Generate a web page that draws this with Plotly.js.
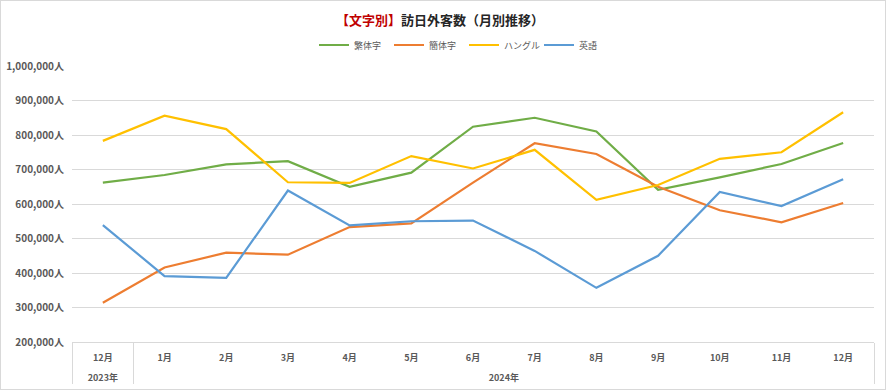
<!DOCTYPE html>
<html>
<head>
<meta charset="utf-8">
<script src="https://cdn.plot.ly/plotly-3.0.1.min.js"></script>
<style>
  html, body { margin: 0; padding: 0; background: #fff; }
  #wrap { position: relative; width: 886px; height: 390px; }
  #chart { width: 886px; height: 390px; }
  #frame { position: absolute; left: 0; top: 0; width: 884px; height: 388px; border: 1px solid #d9d9d9; pointer-events: none; }
</style>
</head>
<body>
<div id="wrap"><div id="chart"></div><div id="frame"></div></div>
<script>
const years = ['2023年','2024年','2024年','2024年','2024年','2024年','2024年','2024年','2024年','2024年','2024年','2024年','2024年'];
// the second "12月" carries a zero-width space so the multicategory axis keeps it as a separate, last category
const months = ['12月','1月','2月','3月','4月','5月','6月','7月','8月','9月','10月','11月','12月\u200b'];

const traditional = [662000, 684000, 715000, 724000, 650000, 691000, 824000, 850000, 810000, 641000, 677000, 716000, 777000];
const simplified  = [314000, 416000, 459000, 453000, 533000, 544000, 662000, 776000, 745000, 650000, 582000, 547000, 603000];
const hangul      = [783000, 856000, 817000, 663000, 661000, 739000, 703000, 757000, 612000, 655000, 731000, 750000, 866000];
const english     = [539000, 391000, 386000, 639000, 538000, 550000, 552000, 464000, 357000, 450000, 635000, 594000, 672000];

const seriesNames = ['繁体字', '簡体字', 'ハングル', '英語'];
const seriesColors = ['#70AD47', '#ED7D31', '#FFC000', '#5B9BD5'];
const seriesValues = [traditional, simplified, hangul, english];

const yTicks = [200000, 300000, 400000, 500000, 600000, 700000, 800000, 900000, 1000000];
const yTickText = yTicks.map(v => v.toLocaleString('en-US') + '人');

const FONT = '"Noto Sans CJK JP", "Noto Sans", sans-serif';

// outer (year) labels are pushed one line lower, as in the reference
const xOuter = years.map(y => '<br>' + y);

const traces = seriesValues.map((vals, i) => ({
  type: 'scatter',
  mode: 'lines',
  name: seriesNames[i],
  x: [xOuter, months],
  y: vals,
  line: { color: seriesColors[i], width: 2.2 },
  hoverinfo: 'y+name'
}));

const layout = {
  width: 886,
  height: 390,
  margin: { l: 72, r: 12, t: 66, b: 48 },
  paper_bgcolor: '#ffffff',
  plot_bgcolor: '#ffffff',
  font: { family: FONT, color: '#595959', size: 10 },
  title: {
    text: '<span style="color:#C00000">【文字別】</span>訪日外客数（月別推移）',
    font: { family: FONT, size: 13, color: '#262626', weight: 'bold' },
    x: 440 / 886, xanchor: 'center', xref: 'container',
    y: 1 - 20 / 390, yref: 'container', yanchor: 'middle'
  },
  showlegend: true,
  legend: {
    orientation: 'h',
    x: (464 - 72) / 802, xanchor: 'center',
    y: 1.076, yanchor: 'middle',
    font: { family: FONT, size: 9, color: '#595959' },
    bgcolor: 'rgba(0,0,0,0)',
    entrywidth: 30,
    entrywidthmode: 'pixels',
    tracegroupgap: 0
  },
  xaxis: {
    type: 'multicategory',
    range: [-0.5, 12.5],
    showgrid: false,
    showline: true,
    linecolor: '#d9d9d9',
    linewidth: 1,
    ticks: '',
    showdividers: true,
    dividercolor: '#d9d9d9',
    dividerwidth: 1,
    ticklabelstandoff: 7,
    tickfont: { family: FONT, size: 9, color: '#595959', weight: 'bold' },
    zeroline: false
  },
  yaxis: {
    range: [200000, 1000000],
    tickmode: 'array',
    tickvals: yTicks,
    ticktext: yTickText,
    showgrid: true,
    gridcolor: '#d9d9d9',
    gridwidth: 1,
    showline: false,
    zeroline: false,
    ticks: '',
    ticklabelstandoff: 7,
    tickfont: { family: FONT, size: 10, color: '#595959', weight: 'bold' }
  }
};

Plotly.newPlot('chart', traces, layout, { displayModeBar: false, staticPlot: true });
</script>
</body>
</html>
